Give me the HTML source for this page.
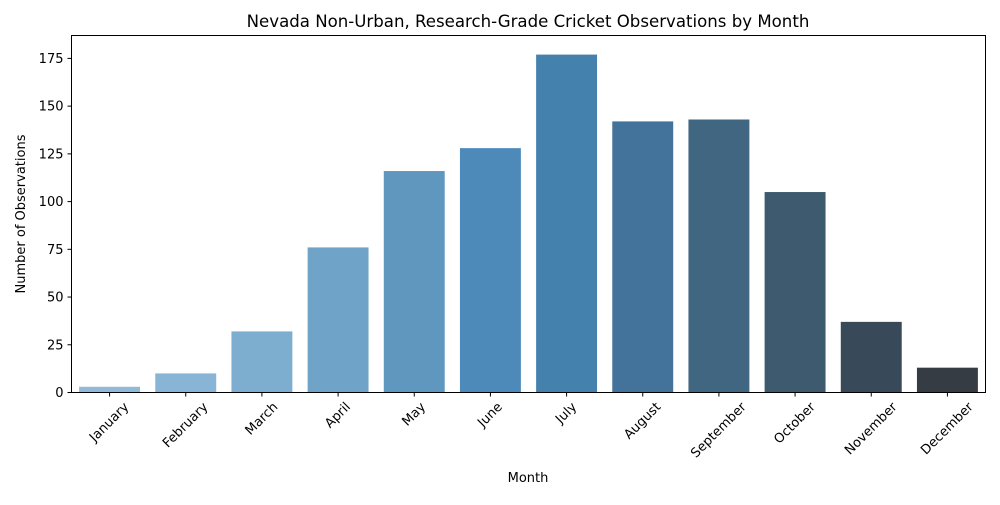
<!DOCTYPE html>
<html><head><meta charset="utf-8"><style>
body{margin:0;background:#fff;}
svg text{font-family:"DejaVu Sans","Liberation Sans",sans-serif;fill:#000;}
</style></head><body>
<svg id="chart" width="1000" height="500" xmlns="http://www.w3.org/2000/svg">
<rect width="1000" height="500" fill="#fff"/>
<text x="528" y="27" font-size="16.6" text-anchor="middle">Nevada Non-Urban, Research-Grade Cricket Observations by Month</text>
<g id="bars"></g><g id="xaxis"></g><g id="yaxis"></g>
<rect x="71.5" y="35.5" width="914" height="357" fill="none" stroke="#000" stroke-width="1"/>
<text x="528" y="482" font-size="13" text-anchor="middle">Month</text>
<text transform="translate(25,214) rotate(-90)" font-size="13" text-anchor="middle">Number of Observations</text>
</svg>
<script>
const months=["January","February","March","April","May","June","July","August","September","October","November","December"];
const counts=[3,10,32,76,116,128,177,142,143,105,37,13];
const yTicks=[0,25,50,75,100,125,150,175];
const colors=["#90bad8","#88b4d5","#7dadcf","#6fa3c8","#6097be","#4e8ab9","#4581ad","#43739a","#416681","#3e5a6f","#384a5a","#353c44"];
const L=71.5,R=985.5,T=35.5,B=392.5,yMax=187;
const ns="http://www.w3.org/2000/svg";
const y=v=>B-(v/yMax)*(B-T);
const step=(R-L)/months.length;
const x=i=>L+step*i+step/2;
const bars=document.getElementById('bars'),xa=document.getElementById('xaxis'),ya=document.getElementById('yaxis');
function mk(tag,attrs){const e=document.createElementNS(ns,tag);for(const k in attrs)e.setAttribute(k,attrs[k]);return e;}
months.forEach((m,i)=>{
  const w=step*0.8;
  const r=mk('rect',{x:x(i)-w/2,y:y(counts[i]),width:w,height:B-y(counts[i]),fill:colors[i]});
  
  
  bars.appendChild(r);
  const t=mk('line',{x1:x(i),x2:x(i),y1:B,y2:B+4,stroke:'#000'});
  
  
  xa.appendChild(t);
  const lb=mk('text',{'font-size':13,'text-anchor':'middle','dominant-baseline':'central'});
  lb.textContent=m;
  
  
  xa.appendChild(lb);
  const tw=lb.getComputedTextLength();
  const half=(tw*0.7071+13*0.7071)/2;
  lb.setAttribute('transform',`translate(${x(i)},${B+8+half}) rotate(-45)`);
});
yTicks.forEach(v=>{
  const t=mk('line',{x1:L-4,x2:L,y1:y(v),y2:y(v),stroke:'#000'});
  
  
  ya.appendChild(t);
  const lb=mk('text',{x:L-8,y:y(v)+4.5,'font-size':13,'text-anchor':'end'});
  lb.textContent=v;
  
  
  ya.appendChild(lb);
});
</script>
</body></html>
